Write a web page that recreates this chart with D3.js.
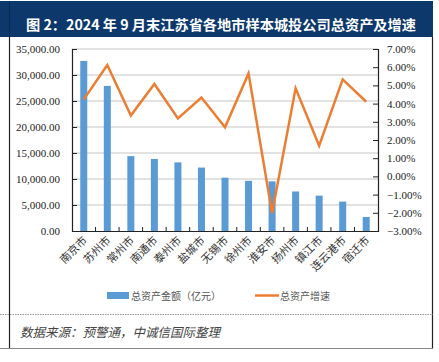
<!DOCTYPE html>
<html><head><meta charset="utf-8">
<script src="https://cdn.jsdelivr.net/npm/d3@7"></script>
<style>body{margin:0;background:#fff}svg{display:block}</style>
</head><body>
<script>
const categories = ["南京市","苏州市","常州市","南通市","泰州市","盐城市","无锡市","徐州市","淮安市","扬州市","镇江市","连云港市","宿迁市"];
const assets = [32700, 27900, 14400, 13850, 13200, 12200, 10250, 9650, 9550, 7600, 6800, 5650, 2700];
const growth = [4.23, 6.12, 3.34, 5.08, 3.19, 4.33, 2.70, 5.66, -2.03, 4.84, 1.69, 5.33, 4.10];
const leftTicks = [0, 5000, 10000, 15000, 20000, 25000, 30000, 35000];
const rightTicks = [-3, -2, -1, 0, 1, 2, 3, 4, 5, 6, 7];
const title = "图 2：2024 年 9 月末江苏省各地市样本城投公司总资产及增速";
const legendLabels = ["总资产金额（亿元）", "总资产增速"];
const source = "数据来源：预警通，中诚信国际整理";

const W = 439, H = 362;
const svg = d3.select("body").append("svg").attr("width", W).attr("height", H);

// frame
svg.append("rect").attr("x",0).attr("y",1).attr("width",433).attr("height",36).attr("fill","#0c386b");
svg.append("line").attr("x1",9.5).attr("x2",9.5).attr("y1",1).attr("y2",37).attr("stroke","#062a52").attr("stroke-width",1);
svg.append("line").attr("x1",9.5).attr("x2",9.5).attr("y1",37).attr("y2",349).attr("stroke","#222").attr("stroke-width",1.2);
svg.append("line").attr("x1",432.5).attr("x2",432.5).attr("y1",37).attr("y2",349).attr("stroke","#222").attr("stroke-width",1.2);
svg.append("line").attr("x1",0).attr("x2",433).attr("y1",348.5).attr("y2",348.5).attr("stroke","#888").attr("stroke-width",1.2);
svg.append("line").attr("x1",0).attr("x2",433).attr("y1",314.5).attr("y2",314.5).attr("stroke","#999").attr("stroke-width",1).attr("stroke-dasharray","1.5,1");

svg.append("text").attr("x",26).attr("y",30).attr("fill","#fff")
  .attr("font-family","'Noto Sans CJK SC', 'Liberation Serif', serif").attr("font-weight","bold").attr("font-size",14)
  .attr("textLength",390).attr("lengthAdjust","spacingAndGlyphs").text(title);

const x0 = 72, x1 = 378, yTop = 49, yBot = 231;
const x = d3.scaleBand().domain(categories).range([x0, x1]).paddingInner(0).paddingOuter(0);
const yL = d3.scaleLinear().domain([0, 35000]).range([yBot, yTop]);
const yR = d3.scaleLinear().domain([-3, 7]).range([yBot, yTop]);

// gridlines
svg.append("g").selectAll("line").data(leftTicks.slice(1)).join("line")
  .attr("x1",x0).attr("x2",x1).attr("y1",d=>yL(d)).attr("y2",d=>yL(d))
  .attr("stroke","#d9d9d9").attr("stroke-width",1.3);

// bars
const bw = 7;
svg.append("g").selectAll("rect").data(categories).join("rect")
  .attr("x",(d)=>x(d)+x.bandwidth()/2-bw/2).attr("width",bw)
  .attr("y",(d,i)=>yL(assets[i])).attr("height",(d,i)=>yBot-yL(assets[i]))
  .attr("fill","#5b9bd5");

// left axis
const axL = svg.append("g").attr("transform",`translate(${x0},0)`)
  .call(d3.axisLeft(yL).tickValues(leftTicks).tickSize(-5).tickPadding(12).tickFormat(d3.format(",.2f")));
axL.select(".domain").attr("stroke","#222").attr("stroke-width",1.2);
axL.selectAll(".tick line").attr("stroke","#222");
axL.selectAll("text").attr("font-family","'Liberation Serif', serif").attr("font-size",11).attr("fill","#222");

// right axis
const axR = svg.append("g").attr("transform",`translate(${x1},0)`)
  .call(d3.axisRight(yR).tickValues(rightTicks).tickSize(-5).tickPadding(9).tickFormat(d=>d3.format(".2f")(d)+"%"));
axR.select(".domain").attr("stroke","#222").attr("stroke-width",1.2);
axR.selectAll(".tick line").attr("stroke","#222");
axR.selectAll("text").attr("font-family","'Liberation Serif', serif").attr("font-size",11).attr("fill","#222");

// bottom axis
const axB = svg.append("g").attr("transform",`translate(0,${yBot})`)
  .call(d3.axisBottom(x).tickSize(0).tickFormat(""));
axB.select(".domain").attr("stroke","#222").attr("stroke-width",1.2);
svg.append("g").selectAll("line").data(categories.slice(1)).join("line")
  .attr("x1",d=>x(d)).attr("x2",d=>x(d)).attr("y1",yBot).attr("y2",yBot-4).attr("stroke","#222");

// category labels
svg.append("g").selectAll("text").data(categories).join("text")
  .attr("transform",d=>`translate(${x(d)+x.bandwidth()/2+4},${yBot+10}) rotate(-45)`)
  .attr("text-anchor","end").attr("font-family","'Noto Sans CJK SC', sans-serif").attr("font-size",11)
  .attr("fill","#333").text(d=>d);

// line
const line = d3.line().x((d,i)=>x(categories[i])+x.bandwidth()/2).y(d=>yR(d));
svg.append("path").datum(growth).attr("d",line).attr("fill","none")
  .attr("stroke","#ed7d31").attr("stroke-width",2.5).attr("stroke-linejoin","miter");

// legend
const lg = svg.append("g").attr("font-family","'Noto Sans CJK SC', sans-serif").attr("font-size",10).attr("fill","#555");
lg.append("rect").attr("x",107).attr("y",292).attr("width",22).attr("height",7).attr("fill","#5b9bd5");
lg.append("text").attr("x",131).attr("y",299.5).text(legendLabels[0]);
lg.append("line").attr("x1",255).attr("x2",279).attr("y1",295.5).attr("y2",295.5).attr("stroke","#ed7d31").attr("stroke-width",2.5);
lg.append("text").attr("x",280).attr("y",299.5).text(legendLabels[1]);

// source
svg.append("text").attr("x",20).attr("y",337).attr("font-family","'Noto Sans CJK SC', sans-serif")
  .attr("font-style","italic").attr("font-size",12.5).attr("fill","#444").text(source);
</script>
</body></html>
